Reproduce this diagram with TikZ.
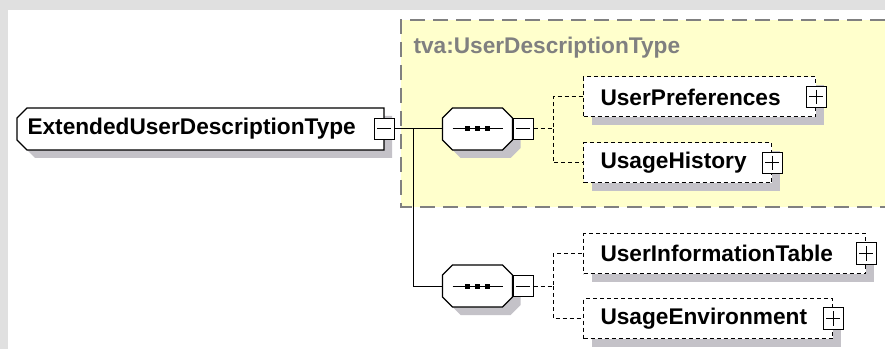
\documentclass[tikz,border=0pt]{standalone}
\usepackage{fontspec}
\setmainfont{Liberation Sans}
\usepackage{tikz}
\usetikzlibrary{positioning,calc,shadows,backgrounds}
\definecolor{schema@frame}{RGB}{224,224,224}
\definecolor{schema@yellow}{RGB}{255,255,204}
\definecolor{schema@gray}{RGB}{128,128,128}
\definecolor{schema@shadow}{RGB}{196,194,200}
% outline with the two left corners cut off (node, cut)
\newcommand{\leftcutpath}[2]{%
  ($(#1.north west)+(#2,0)$) -- (#1.north east) -- (#1.south east) --
  ($(#1.south west)+(#2,0)$) -- ($(#1.south west)+(0,-#2)$) --
  ($(#1.north west)+(0,#2)$) -- cycle}
% outline with all four corners cut off (node, cut)
\newcommand{\octpath}[2]{%
  ($(#1.north west)+(#2,0)$) -- ($(#1.north east)+(-#2,0)$) --
  ($(#1.north east)+(0,#2)$) -- ($(#1.south east)+(0,-#2)$) --
  ($(#1.south east)+(-#2,0)$) -- ($(#1.south west)+(#2,0)$) --
  ($(#1.south west)+(0,-#2)$) -- ($(#1.north west)+(0,#2)$) -- cycle}
\tikzset{
  schema/.style={
    x=0.75pt, y=-0.75pt,
    line width=0.75pt,
    every node/.style={font=\fontsize{17}{20}\selectfont\bfseries}
  },
  boxshadow/.style={                % grey offset shadow
    drop shadow={shadow xshift=6pt, shadow yshift=-6pt,
                 fill=schema@shadow, opacity=1}
  },
  elem/.style={                     % global element (outline drawn behind)
    rectangle, anchor=west, align=left,
    inner xsep=7.5pt, inner ysep=0pt,
    minimum height=30.75pt
  },
  elemline/.style={draw=black, line width=0.9pt, fill=white, boxshadow},
  optelem/.style={                  % optional child element
    rectangle, draw, line width=0.75pt,
    dash pattern=on 3pt off 2.25pt,
    fill=white, boxshadow,
    anchor=west, align=left,
    inner xsep=12.75pt, inner ysep=0pt,
    minimum height=30pt
  },
  seqbox/.style={                   % sequence compositor (outline drawn behind)
    rectangle, minimum width=51.75pt, minimum height=30.75pt, inner sep=0pt
  },
  togglebox/.style={
    rectangle, draw, line width=0.75pt, fill=white,
    minimum width=15pt, minimum height=16pt, inner sep=0pt
  },
  minusbox/.style={togglebox,
    path picture={\draw[line width=0.75pt]
      ([xshift=2.5pt]path picture bounding box.west) --
      ([xshift=-2.5pt]path picture bounding box.east);}
  },
  plusbox/.style={togglebox,
    path picture={\draw[line width=0.75pt]
      ([xshift=2.5pt]path picture bounding box.west) --
      ([xshift=-2.5pt]path picture bounding box.east)
      ([yshift=-2.5pt]path picture bounding box.north) --
      ([yshift=2.5pt]path picture bounding box.south);}
  },
  conn/.style={draw=black, line width=0.75pt},
  optconn/.style={draw=black, line width=0.75pt, dash pattern=on 3pt off 2.25pt},
  groupline/.style={draw=schema@gray, line width=1.1pt, dash pattern=on 11.25pt off 6pt}
}

\begin{document}
\begin{tikzpicture}[schema]
\useasboundingbox (0,0) rectangle (885,349);
% window frame and base type area
\begin{scope}[on background layer]
  \fill[schema@frame] (0,0) rectangle (885,349);
  \fill[white] (8,10) rectangle (885,349);
  \fill[schema@yellow] (401,20) rectangle (885,207);
  \draw[groupline] (885,20) -- (401,20) -- (401,207) -- (885,207);
\end{scope}
\node[anchor=west, text=schema@gray, inner sep=0pt] (grptitle) at (413,48) {tva:UserDescriptionType};

% root element
\node[elem, text width=259.5pt] (main) at (17,129) {ExtendedUserDescriptionType};
\node[minusbox] (mainmin) at (main.east) {};

% the two sequences
\node[seqbox] (seq1) at (477.5,129) {};
\node[seqbox] (seq2) at (477.5,286) {};
\begin{scope}[on background layer]
  \path[elemline] \leftcutpath{main}{10};
  \path[elemline] \octpath{seq1}{10};
  \path[elemline] \octpath{seq2}{10};
\end{scope}
\node[minusbox, anchor=west] (seq1min) at (seq1.east) {};
\node[minusbox, anchor=west] (seq2min) at (seq2.east) {};
\foreach \s in {seq1,seq2} {
  \draw ($(\s.center)+(-25,0)$) -- ($(\s.center)+(25,0)$);
  \foreach \d in {-10,0,10}
    \fill ($(\s.center)+(\d,0)$) +(-2.5,-2.5) rectangle +(2.5,2.5);
}

% optional children
\node[optelem, text width=148.5pt] (prefs) at (583,97) {UserPreferences};
\node[plusbox] (prefsplus) at (prefs.east) {};
\node[optelem, text width=115.5pt] (hist) at (583,163) {UsageHistory};
\node[plusbox] (histplus) at (hist.east) {};
\node[optelem, text width=186pt] (infotab) at (583,253.5) {UserInformationTable};
\node[plusbox] (infotabplus) at (infotab.east) {};
\node[optelem, text width=161.25pt] (env) at (583,318.5) {UsageEnvironment};
\node[plusbox] (envplus) at (env.east) {};

% connectors
\coordinate (fork) at (413,129);
\draw[conn] (mainmin.east) -- (seq1.west);
\draw[conn] (fork) |- (seq2.west);
\coordinate (fork1) at (553,129);
\draw[optconn] (seq1min.east) -- (fork1) |- (prefs.west);
\draw[optconn] (fork1) |- (hist.west);
\coordinate (fork2) at (553,286);
\draw[optconn] (seq2min.east) -- (fork2) |- (infotab.west);
\draw[optconn] (fork2) |- (env.west);
\end{tikzpicture}
\end{document}
